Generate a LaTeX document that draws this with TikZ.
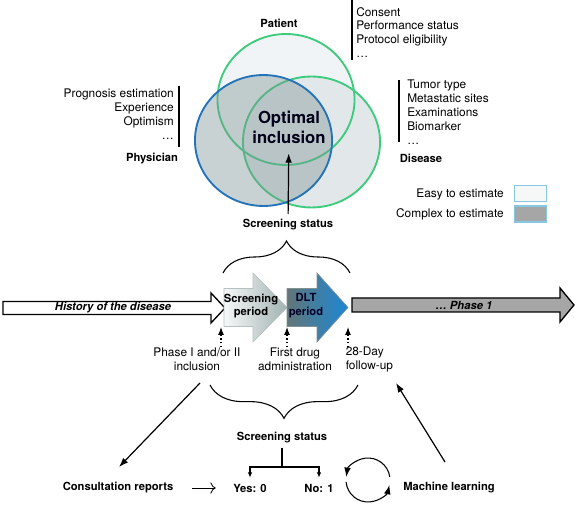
\documentclass[tikz,border=0pt]{standalone}
\usepackage{fontspec}
\setmainfont{TeX Gyre Heros}
\usepackage{tikz}
\usetikzlibrary{arrows.meta,decorations.pathreplacing,positioning}
\definecolor{patgreen}{HTML}{3DCC7E}
\definecolor{phyblue}{HTML}{2373BA}
\definecolor{patfill}{HTML}{F1F4F6}
\definecolor{disfill}{HTML}{E2E8E9}
\definecolor{phyfill}{HTML}{7E9494}
\definecolor{legblue}{HTML}{86C8E2}
\definecolor{legfill}{HTML}{A6A6A6}
\definecolor{dltblue}{HTML}{1C87D4}
\definecolor{dltgray}{HTML}{627678}
\definecolor{scrgray}{HTML}{A2B2B2}
\definecolor{scrwhite}{HTML}{F6F8F8}
\tikzset{
  txt/.style={ font=\fontsize{8.9}{10.4}\selectfont, inner sep=0pt }
}
\tikzset{
  lbl/.style={ font=\bfseries\fontsize{8.4}{10.4}\selectfont, inner sep=0pt }
}
\tikzset{
  legbox/.style={ draw=legblue, line width=1.1pt, minimum width=24pt, minimum height=12pt, inner sep=0pt }
}
\tikzset{
  arr/.style={ -{Latex[length=7pt, width=5pt]}, line width=0.9pt }
}
\tikzset{
  dotarr/.style={ -{Latex[length=6pt, width=4.5pt]}, line width=0.8pt, dotted }
}
\tikzset{
  bigbrace/.style={ decorate, decoration={brace, amplitude=#1}, line width=0.8pt }
}

\begin{document}
\begin{tikzpicture}[x=0.75pt, y=-0.75pt]
      \useasboundingbox (0,0) rectangle (575,505);

      % venn diagram
      \fill[patfill] (286,99.5) ellipse [x radius=51.4pt, y radius=49.1pt];
      \fill[disfill] (311.5,142) ellipse [x radius=51.4pt, y radius=49.1pt];
      \draw[patgreen, line width=1.4pt] (286,99.5) ellipse [x radius=51.4pt, y radius=49.1pt];
      \draw[patgreen, line width=1.4pt] (311.5,142) ellipse [x radius=51.4pt, y radius=49.1pt];
      \fill[phyfill, opacity=0.42] (263.5,140.5) ellipse [x radius=51.4pt, y radius=49.1pt];
      \draw[phyblue, line width=1.4pt] (263.5,140.5) ellipse [x radius=51.4pt, y radius=49.1pt];

      \node[font=\bfseries\fontsize{12.5}{15}\selectfont, align=center, inner sep=0pt, text=black!90!blue] (opt) at (289,127.5) {Optimal\\inclusion};

      \node[lbl] (pat) at (279,23) {Patient};
      \node[lbl] (phy) at (152,159) {Physician};
      \node[lbl] (dis) at (421,158) {Disease};

      \node[txt, align=left, anchor=west] (patl) at (356,32.5) {Consent\\Performance status\\Protocol eligibility\\\ldots};
      \node[txt, align=right, anchor=east] (phyl) at (174,114) {Prognosis estimation\\Experience\\Optimism\\\ldots};
      \node[txt, align=left, anchor=west] (disl) at (407,112) {Tumor type\\Metastatic sites\\Examinations\\Biomarker\\\ldots};
      \draw[line width=1.1pt] (352,0) -- (352,60);
      \draw[line width=1.1pt] (179,86) -- (179,147);
      \draw[line width=1.1pt] (399,80) -- (399,142);

      % legend
      \node[legbox, fill=scrwhite] (easyb) at (530.5,193.5) {};
      \node[legbox, fill=legfill] (cplxb) at (530.5,214) {};
      \node[txt, anchor=east] (easyl) at (504,194) {Easy to estimate};
      \node[txt, anchor=east] (cplxl) at (504,214.5) {Complex to estimate};

      \node[lbl] (st1) at (288,225) {Screening status};
      \draw[arr, shorten <=4pt, shorten >=7pt] (st1) -- (opt);
      \draw[bigbrace=24pt] (223,273) -- (350,273);

      % time line
      \draw[line width=1pt, fill=white] (3,301.5) -- (211,301.5) -- (211,293) -- (225,308)
          -- (211,323) -- (211,314.5) -- (3,314.5) -- cycle;
      \draw[line width=1pt, fill=legfill] (352,298) -- (560,298) -- (560,288) -- (574,305)
          -- (560,322) -- (560,312) -- (352,312) -- cycle;
      \draw[draw=scrgray!80, line width=0.5pt, left color=scrwhite, right color=scrgray]
          (224,288.5) -- (253,288.5) -- (253,273) -- (287,307.5) -- (253,342) -- (253,326.5)
          -- (224,326.5) -- cycle;
      \draw[draw=dltgray!80, line width=0.5pt, left color=dltgray, right color=dltblue]
          (287,288.5) -- (317,288.5) -- (317,273) -- (348,307.5) -- (317,342) -- (317,326.5)
          -- (287,326.5) -- cycle;

      \node[lbl, font=\bfseries\itshape\fontsize{8.4}{10.4}\selectfont] (hist) at (113,308) {History of the disease};
      \node[lbl, font=\bfseries\itshape\fontsize{8.4}{10.4}\selectfont] (ph1) at (464,305) {\ldots{} Phase 1};
      \node[lbl, align=center] (scr) at (251,306) {Screening\\period};
      \node[lbl, align=center, text=black!85!blue] (dlt) at (306,306) {DLT\\period};

      \coordinate (t1) at (221,327);
      \coordinate (t2) at (287,327);
      \coordinate (t3) at (348,327);
      \coordinate (d1) at (221,347);
      \coordinate (d2) at (287,347);
      \coordinate (d3) at (348,347);
      \draw[dotarr] (d1) -- (t1);
      \draw[dotarr] (d2) -- (t2);
      \draw[dotarr] (d3) -- (t3);

      \node[txt, align=center] (incl) at (197,359.5) {Phase I and/or II\\inclusion};
      \node[txt, align=center] (drug) at (295,359.5) {First drug\\administration};
      \node[txt, align=left, anchor=west] (fup) at (345.5,359.5) {28-Day\\follow-up};

      % lower part
      \draw[bigbrace=25pt] (358,385) -- (210,385);
      \node[lbl] (st2) at (282,438) {Screening status};
      \node[lbl] (yes) at (250,488) {Yes: 0};
      \node[lbl] (no) at (319,488) {No: 1};
      \node[lbl] (cons) at (118,488) {Consultation reports};
      \node[lbl] (ml) at (449,488) {Machine learning};

      \coordinate (fork) at (282,467);
      \draw[line width=0.8pt] (st2) ++(0,10) -- (fork);
      \draw[line width=0.8pt, -{Latex[length=4pt, width=3.5pt]}] (fork) -| ([yshift=4.5pt]yes.north);
      \draw[line width=0.8pt, -{Latex[length=4pt, width=3.5pt]}] (fork) -| ([yshift=4.5pt]no.north);

      \coordinate (c1) at (200,383);
      \coordinate (c2) at (119,467);
      \coordinate (m1) at (445,462);
      \coordinate (m2) at (396,383);
      \draw[arr] (c1) -- (c2);
      \draw[arr] (m1) -- (m2);
      \draw[line width=0.6pt, -{To[length=4pt]}] ([xshift=14pt]cons.east) -- ([xshift=-13pt]yes.west);

      \coordinate (cyc) at (368,480);
      \draw[arr, line width=0.8pt] (cyc) ++(8:16.5pt) arc[start angle=8, end angle=172, radius=16.5pt];
      \draw[arr, line width=0.8pt] (cyc) ++(185:16.5pt) arc[start angle=185, end angle=347, radius=16.5pt];
    \end{tikzpicture}
\end{document}
